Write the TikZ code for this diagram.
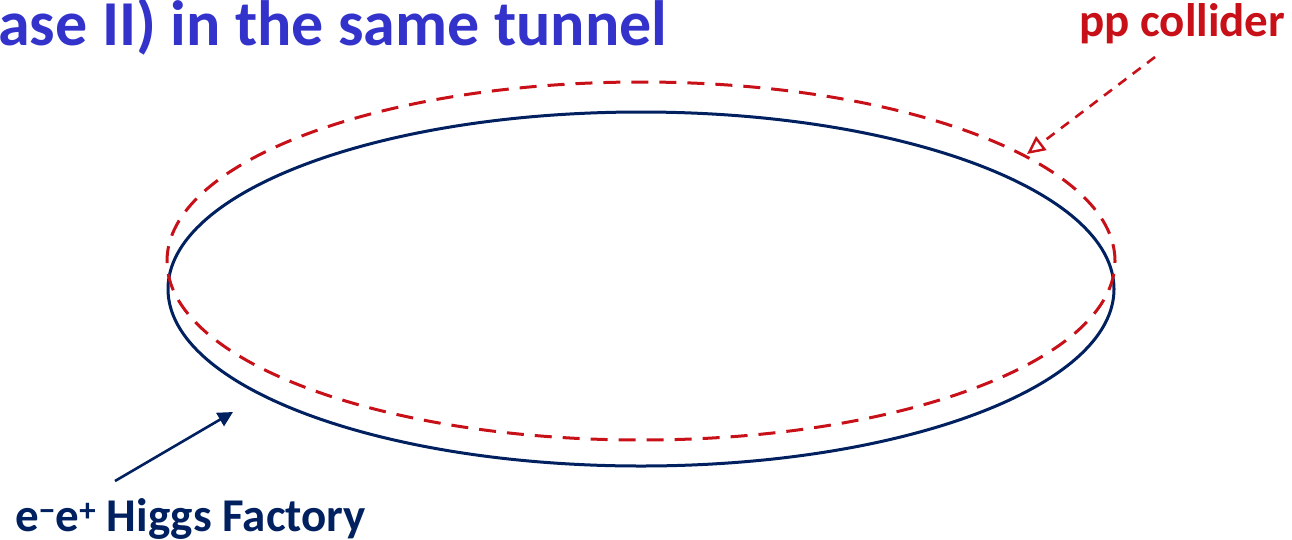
\documentclass[tikz,border=0pt]{standalone}
\usepackage{fontspec}
\setmainfont{Carlito}
\usetikzlibrary{arrows.meta,shapes.geometric}
\definecolor{titleblue}{RGB}{51,51,204}
\definecolor{ppred}{RGB}{200,16,24}
\definecolor{eeblue}{RGB}{0,32,96}
\tikzset{
  ring/.style={ellipse, inner sep=0pt, outer sep=0pt},
  eering/.style={ring, draw=eeblue, line width=3pt},
  ppring/.style={ring, draw=ppred, line width=3pt, dash pattern=on 17pt off 11pt},
  lbl/.style={anchor=base west, inner sep=0pt, font=\bfseries},
  eearrow/.style={draw=eeblue, line width=2.6pt, -{Triangle[length=15pt,width=15pt]}},
  pparrow/.style={draw=ppred, line width=2.6pt, dash pattern=on 10pt off 8pt, -{Triangle[open,length=18pt,width=17pt,line width=2.4pt]}}
}
\begin{document}
\begin{tikzpicture}[x=1pt,y=-1pt]
\useasboundingbox (0,0) rectangle (1292,539);
\node[lbl, text=titleblue, font=\bfseries\fontsize{64}{70}\selectfont] (title) at (-2,45) {ase II) in the same tunnel};
\node[lbl, text=ppred, font=\bfseries\fontsize{47}{52}\selectfont] (pplbl) at (1079,36) {pp collider};
\node[lbl, text=eeblue, font=\bfseries\fontsize{47}{52}\selectfont] (eelbl) at (15,531) {e\textsuperscript{−}e\textsuperscript{+} Higgs Factory};
\node[eering, minimum width=946pt, minimum height=354pt] (ee) at (641,289) {};
\node[ppring, minimum width=948pt, minimum height=358pt] (pp) at (641,261) {};
\coordinate (ppstart) at (1155,57);
\coordinate (ppend) at (1027,154);
\coordinate (eestart) at (115,481);
\coordinate (eeend) at (233,412);
\draw[pparrow] (ppstart) -- (ppend);
\draw[eearrow] (eestart) -- (eeend);
\end{tikzpicture}
\end{document}
